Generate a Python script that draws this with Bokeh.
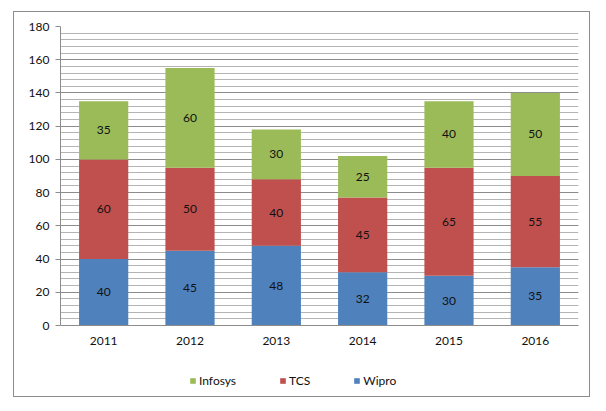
from bokeh.plotting import figure
from bokeh.models import ColumnDataSource, Legend, LegendItem, FixedTicker
from bokeh.layouts import column
from bokeh.core.properties import value
from bokeh.embed import file_html
from bokeh.resources import INLINE

years = ["2011", "2012", "2013", "2014", "2015", "2016"]
wipro = [40, 45, 48, 32, 30, 35]
tcs = [60, 50, 40, 45, 65, 55]
infosys = [35, 60, 30, 25, 40, 50]
series = ["Wipro", "TCS", "Infosys"]
colors = ["#4F81BD", "#C0504D", "#9BBB59"]
legend_order = ["Infosys", "TCS", "Wipro"]
y_ticks = [0, 20, 40, 60, 80, 100, 120, 140, 160, 180]

FONT = "Lato"

data = {"years": years, "Wipro": wipro, "TCS": tcs, "Infosys": infosys}
lab_x, lab_y, lab_t = [], [], []
for i, yr in enumerate(years):
    base = 0
    for s in series:
        v = data[s][i]
        lab_x.append(yr)
        lab_y.append(base + v / 2)
        lab_t.append(str(v))
        base += v
src = ColumnDataSource(data)
lab_src = ColumnDataSource(dict(x=lab_x, y=lab_y, t=lab_t))

p = figure(x_range=years, y_range=(0, 180), width=575, height=345,
           output_backend="svg", toolbar_location=None,
           min_border_left=46, min_border_top=14, min_border_right=11, min_border_bottom=32)
p.outline_line_color = None
p.x_range.range_padding = 0

p.vbar_stack(series, x="years", width=0.57, color=colors, source=src, line_color=None)

p.text(x="x", y="y", text="t", source=lab_src, text_align="center", text_baseline="middle",
       text_font=value(FONT), text_font_size="12px", text_color="#111111")

p.yaxis.ticker = FixedTicker(ticks=y_ticks, minor_ticks=list(range(0, 181, 4)))
p.yaxis.major_label_text_font = FONT
p.yaxis.major_label_text_font_size = "12px"
p.yaxis.major_label_text_color = "#111111"
p.yaxis.axis_line_color = "#8c8c8c"
p.yaxis.major_tick_line_color = "#8c8c8c"
p.yaxis.major_tick_out = 5
p.yaxis.major_tick_in = 0
p.yaxis.minor_tick_line_color = None
p.yaxis.major_label_standoff = 6

p.xaxis.major_label_text_font = FONT
p.xaxis.major_label_text_font_size = "12px"
p.xaxis.major_label_text_color = "#111111"
p.xaxis.axis_line_color = "#8c8c8c"
p.xaxis.major_tick_line_color = None
p.xaxis.major_tick_out = 0
p.xaxis.major_label_standoff = 11

p.xgrid.grid_line_color = None
p.ygrid.grid_line_color = "#8c8c8c"
p.ygrid.minor_grid_line_color = "#b4b4b4"
p.ygrid.level = "underlay"

# legend figure
q = figure(width=575, height=39, x_range=(0, 1), y_range=(0, 1),
           output_backend="svg", toolbar_location=None,
           min_border_left=0, min_border_right=0, min_border_top=0, min_border_bottom=0)
q.axis.visible = False
q.grid.visible = False
q.outline_line_color = None
items = []
for name in legend_order:
    c = colors[series.index(name)]
    # one bar placed outside the visible range: only its legend swatch shows
    rr = q.vbar(x=[-5], top=[-5], bottom=[-6], width=0.1, color=c, line_color=None)
    items.append(LegendItem(label=name, renderers=[rr]))
legend = Legend(items=items, orientation="horizontal", location=(129, 8))
legend.border_line_color = None
legend.background_fill_alpha = 0
legend.glyph_width = 7
legend.glyph_height = 7
legend.label_height = 14
legend.label_width = 0
legend.label_standoff = 3
legend.spacing = 43
legend.padding = 0
legend.margin = 0
legend.label_text_font = FONT
legend.label_text_font_size = "12px"
legend.label_text_color = "#111111"
q.add_layout(legend)

layout = column(p, q, spacing=0)
layout.margin = (11, 0, 0, 13)
layout.styles = {"border": "1px solid #8c8c8c"}
open("out.html", "w").write(file_html(layout, INLINE))
